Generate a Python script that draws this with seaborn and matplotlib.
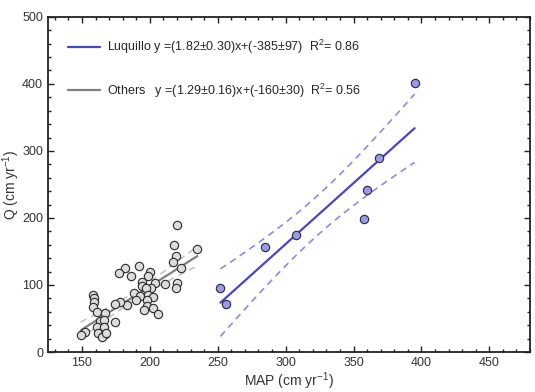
import matplotlib
matplotlib.use("Agg")
import matplotlib.pyplot as plt
import numpy as np
import pandas as pd
import seaborn as sns
from matplotlib.ticker import MultipleLocator

# Luquillo sites
luq_map = [252, 256, 285, 308, 358, 360, 369, 395]
luq_q = [96, 71, 156, 174, 198, 242, 290, 401]
luq_fit = (1.82, -385)

# other sites
oth_map = [220, 218, 219, 217, 235, 223, 192, 182, 177, 186,
           200, 199, 194, 194, 204, 211, 220, 219, 201, 197,
           188, 193, 199, 202, 190, 198, 183, 178, 174, 158,
           159, 159, 158, 161, 167, 198, 196, 202, 206, 163,
           166, 174, 161, 166, 162, 167, 152, 149, 165, 168]
oth_q = [190, 160, 143, 135, 154, 126, 129, 126, 118, 114,
         120, 114, 104, 99, 103, 101, 103, 95, 95, 95,
         88, 83, 85, 82, 77, 77, 70, 75, 72, 85,
         80, 75, 67, 60, 58, 68, 63, 65, 56, 47,
         48, 45, 38, 37, 29, 27, 30, 25, 22, 28]
oth_fit = (1.29, -160)

# t values for 90% confidence band
t_luq = 1.943
t_oth = 1.677


def conf_band(x, y, fit, t):
    x = np.asarray(x, float)
    y = np.asarray(y, float)
    slope, icpt = fit
    resid = y - (slope * x + icpt)
    n = len(x)
    s = np.sqrt(np.sum(resid ** 2) / (n - 2))
    sxx = np.sum((x - x.mean()) ** 2)
    xs = np.linspace(x.min(), x.max(), 100)
    yhat = slope * xs + icpt
    se = s * np.sqrt(1 / n + (xs - x.mean()) ** 2 / sxx)
    return xs, yhat, yhat - t * se, yhat + t * se


sns.set_style("ticks")
plt.rcParams["font.family"] = ["Liberation Sans", "DejaVu Sans"]
plt.rcParams["mathtext.fontset"] = "custom"
plt.rcParams["mathtext.rm"] = "Liberation Sans"
plt.rcParams["mathtext.it"] = "Liberation Sans:italic"

fig = plt.figure(figsize=(5.35, 3.92), dpi=100)
ax = fig.add_axes([0.0897, 0.102, 0.901, 0.855])

blue = "#4646c8"
gray = "#7f7f7f"

xs, yh, lo, hi = conf_band(oth_map, oth_q, oth_fit, t_oth)
ax.plot(xs, lo, ls=(0, (4, 3)), color="#c4c4c4", lw=1.2)
ax.plot(xs, hi, ls=(0, (4, 3)), color="#c4c4c4", lw=1.2)
ax.plot(xs, yh, color=gray, lw=1.6,
        label="Others   y =(1.29\u00b10.16)x+(-160\u00b130)  R$^2$= 0.56")

xs, yh, lo, hi = conf_band(luq_map, luq_q, luq_fit, t_luq)
ax.plot(xs, lo, ls=(0, (4, 3)), color="#8a8af0", lw=1.2)
ax.plot(xs, hi, ls=(0, (4, 3)), color="#8a8af0", lw=1.2)
ax.plot(xs, yh, color=blue, lw=1.6,
        label="Luquillo y =(1.82\u00b10.30)x+(-385\u00b197)  R$^2$= 0.86")

oth = pd.DataFrame({"MAP": oth_map, "Q": oth_q})
luq = pd.DataFrame({"MAP": luq_map, "Q": luq_q})
sns.scatterplot(data=oth, x="MAP", y="Q", ax=ax, s=36, color="#dcdcdc",
                edgecolor="#2a2a2a", linewidth=0.8, zorder=3)
sns.scatterplot(data=luq, x="MAP", y="Q", ax=ax, s=36, color="#9898ec",
                edgecolor="#2a2a2a", linewidth=0.8, zorder=3)

ax.set_xlim(125, 480)
ax.set_ylim(0, 500)
ax.xaxis.set_major_locator(MultipleLocator(50))
ax.xaxis.set_minor_locator(MultipleLocator(10))
ax.yaxis.set_major_locator(MultipleLocator(100))
ax.yaxis.set_minor_locator(MultipleLocator(20))
ax.tick_params(which="both", direction="in", top=True, right=True,
               labelsize=9, width=1.0, colors="#222222", labelcolor="#333333")
ax.tick_params(which="major", length=4)
ax.tick_params(which="minor", length=2)
for sp in ax.spines.values():
    sp.set_linewidth(1.3)
    sp.set_color("#222222")

ax.set_xlabel("MAP (cm yr$^{-1}$)", fontsize=10, color="#333333", labelpad=1)
ax.set_ylabel("Q (cm yr$^{-1}$)", fontsize=10, color="#333333", labelpad=0)

h, l = ax.get_legend_handles_labels()
ax.legend(h[::-1], l[::-1], loc="upper left", bbox_to_anchor=(0.018, 0.97),
          frameon=False, fontsize=9, handlelength=2.6, labelspacing=2.0,
          handletextpad=0.5)

fig.savefig("out.png", dpi=100)
